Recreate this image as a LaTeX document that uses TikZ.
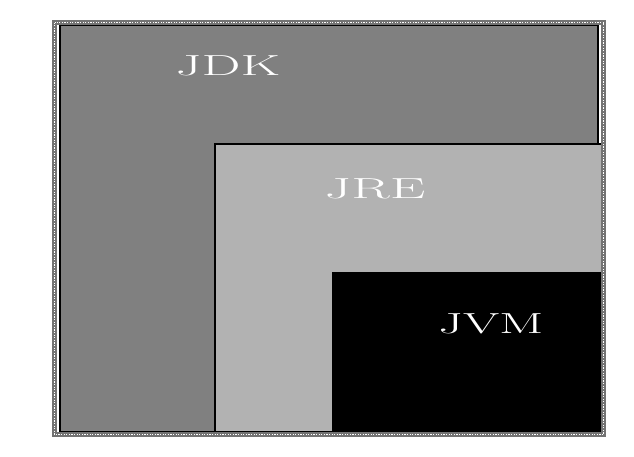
\documentclass[tikz,border=0pt]{standalone}
\usetikzlibrary{positioning}

\begin{document}
\begin{tikzpicture}[x=1pt, y=-1pt,
    layer/.style={draw=black, line width=1.5pt},
    lbl/.style={text=white, font=\fontsize{29}{29}\selectfont, inner sep=0pt},
    frame/.style={draw=black!55, line width=4.5pt},
    frameholes/.style={draw=white, line width=1.8pt, dash pattern=on 1.2pt off 1.4pt}
]
\useasboundingbox (0,0) rectangle (634,456);

% Layers
\path[layer, fill=black!50] (60,25) rectangle (598,432);
\path[layer, fill=black!30] (215,144) rectangle (602,432);
\path[layer, fill=black] (333,273) rectangle (602,432);

% Labels
\node[lbl] (jdk) at (228,66) {\scalebox{1.9}[1]{JDK}};
\node[lbl] (jre) at (375,189) {\scalebox{1.95}[1]{JRE}};
\node[lbl] (jvm) at (491,324) {\scalebox{1.8}[1]{JVM}};

% Dotted frame
\draw[frame] (54.5,22.5) rectangle (603.5,434.5);
\draw[frameholes] (54.5,22.5) rectangle (603.5,434.5);

\end{tikzpicture}
\end{document}
